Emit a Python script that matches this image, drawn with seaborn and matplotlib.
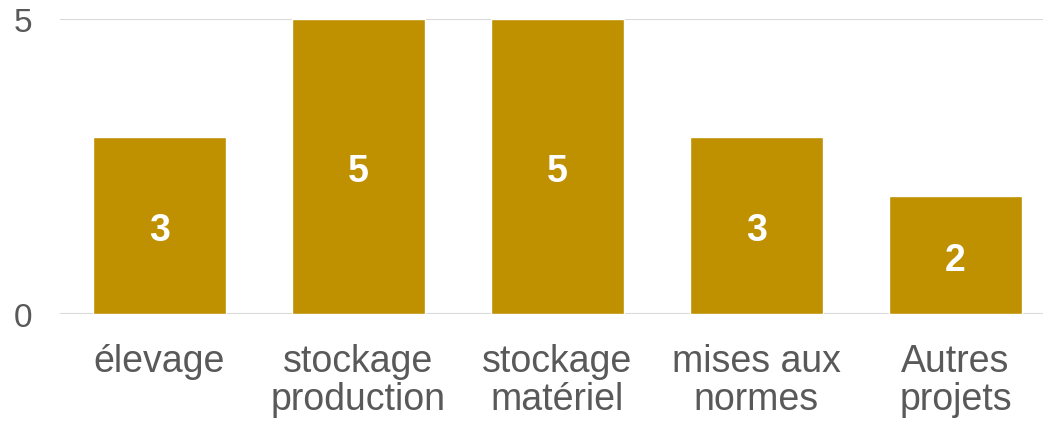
import matplotlib
matplotlib.use("Agg")
import matplotlib.pyplot as plt
import seaborn as sns
import pandas as pd

categories = ["élevage", "stockage\nproduction", "stockage\nmatériel", "mises aux\nnormes", "Autres\nprojets"]
values = [3, 5, 5, 3, 2]
yticks = [0, 5]

sns.set_theme(style="white")
plt.rcParams['font.family'] = ['Liberation Sans', 'DejaVu Sans']

df = pd.DataFrame({"cat": categories, "val": values})

fig = plt.figure(figsize=(10.43, 4.31), dpi=100)
ax = fig.add_axes([60/1043, 1 - 315/431, (1043 - 60)/1043, (315 - 20)/431])

sns.barplot(data=df, x="cat", y="val", color="#BF9000", saturation=1, width=0.67, ax=ax)

ax.set_xlim(-0.5, -0.5 + 983/199)
ax.set_ylim(0, 5)
ax.set_yticks(yticks)
ax.yaxis.grid(True, color="#D9D9D9", linewidth=1.5)
ax.set_axisbelow(True)
for s in ax.spines.values():
    s.set_visible(False)
ax.set_xlabel("")
ax.set_ylabel("")
ax.tick_params(axis="both", length=0, colors="#595959")
ax.tick_params(axis="y", labelsize=24, pad=20)
ax.tick_params(axis="x", labelsize=27, pad=21)
for lbl in ax.get_xticklabels():
    lbl.set_linespacing(1.08)

for c in ax.containers:
    texts = ax.bar_label(c, label_type="center", color="white", fontsize=27, fontweight="bold")
    for t in texts:
        t.xyann = (0, -3.5)

fig.savefig("out.png", dpi=100)
